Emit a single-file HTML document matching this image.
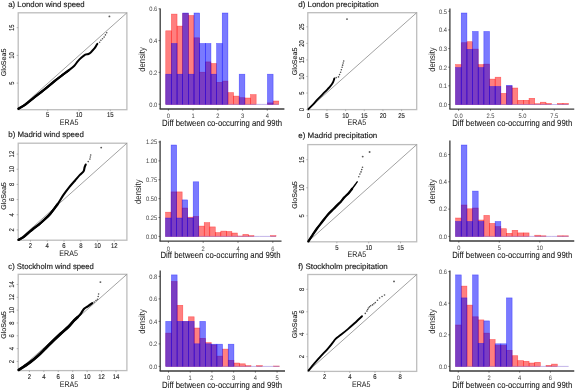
<!DOCTYPE html>
<html><head><meta charset="utf-8"><style>
html,body{margin:0;padding:0;background:#fff;width:575px;height:391px;overflow:hidden}
svg{display:block;will-change:transform}
text{font-family:"Liberation Sans", sans-serif;text-rendering:geometricPrecision}
</style></head><body>
<svg width="575" height="391" viewBox="0 0 575 391" font-family='"Liberation Sans", sans-serif'>
<rect width="575" height="391" fill="#fff"/>
<text x="8.30" y="6.60" font-size="7.8" text-anchor="start" fill="#1a1a1a" stroke="#1a1a1a" stroke-width="0.15" textLength="76.4" lengthAdjust="spacingAndGlyphs">a) London wind speed</text>
<rect x="18.20" y="12.80" width="108.70" height="96.90" fill="none" stroke="#bdbdbd" stroke-width="1.3"/>
<line x1="18.20" y1="109.70" x2="126.90" y2="12.80" stroke="#8a8a8a" stroke-width="0.8"/>
<line x1="47.70" y1="109.70" x2="47.70" y2="111.20" stroke="#999" stroke-width="0.7"/>
<text x="47.70" y="117.40" font-size="7.0" text-anchor="middle" fill="#222" stroke="#222" stroke-width="0.12" textLength="3.31" lengthAdjust="spacingAndGlyphs">5</text>
<line x1="79.00" y1="109.70" x2="79.00" y2="111.20" stroke="#999" stroke-width="0.7"/>
<text x="79.00" y="117.40" font-size="7.0" text-anchor="middle" fill="#222" stroke="#222" stroke-width="0.12" textLength="6.62" lengthAdjust="spacingAndGlyphs">10</text>
<line x1="110.30" y1="109.70" x2="110.30" y2="111.20" stroke="#999" stroke-width="0.7"/>
<text x="110.30" y="117.40" font-size="7.0" text-anchor="middle" fill="#222" stroke="#222" stroke-width="0.12" textLength="6.62" lengthAdjust="spacingAndGlyphs">15</text>
<line x1="16.70" y1="83.10" x2="18.20" y2="83.10" stroke="#999" stroke-width="0.7"/>
<text x="14.10" y="83.10" font-size="7.0" text-anchor="middle" fill="#222" stroke="#222" stroke-width="0.12" transform="rotate(-90 14.10 83.10)" textLength="3.31" lengthAdjust="spacingAndGlyphs">5</text>
<line x1="16.70" y1="55.40" x2="18.20" y2="55.40" stroke="#999" stroke-width="0.7"/>
<text x="14.10" y="55.40" font-size="7.0" text-anchor="middle" fill="#222" stroke="#222" stroke-width="0.12" transform="rotate(-90 14.10 55.40)" textLength="6.62" lengthAdjust="spacingAndGlyphs">10</text>
<line x1="16.70" y1="27.70" x2="18.20" y2="27.70" stroke="#999" stroke-width="0.7"/>
<text x="14.10" y="27.70" font-size="7.0" text-anchor="middle" fill="#222" stroke="#222" stroke-width="0.12" transform="rotate(-90 14.10 27.70)" textLength="6.62" lengthAdjust="spacingAndGlyphs">15</text>
<text x="69.10" y="125.40" font-size="8.1" text-anchor="middle" fill="#1a1a1a" textLength="18.6" lengthAdjust="spacingAndGlyphs">ERA5</text>
<text x="6.30" y="62.40" font-size="6.9" text-anchor="middle" fill="#1a1a1a" stroke="#1a1a1a" stroke-width="0.1" transform="rotate(-90 6.30 62.40)" textLength="27.6" lengthAdjust="spacingAndGlyphs">GloSea5</text>
<path d="M18.50,108.70 C19.63,108.02 22.72,106.45 25.30,104.60 C27.88,102.75 30.95,100.00 34.00,97.60 C37.05,95.20 40.15,92.97 43.60,90.20 C47.05,87.43 51.53,83.55 54.70,81.00 C57.87,78.45 60.32,76.63 62.60,74.90 C64.88,73.17 66.48,72.08 68.40,70.60 C70.32,69.12 72.55,67.53 74.10,66.00 C75.65,64.47 76.47,62.80 77.70,61.40 C78.93,60.00 80.23,58.73 81.50,57.60 C82.77,56.47 84.15,55.20 85.30,54.60 C86.45,54.00 87.45,54.38 88.40,54.00 C89.35,53.62 90.23,52.97 91.00,52.30 C91.77,51.63 92.30,50.83 93.00,50.00 C93.70,49.17 94.62,48.10 95.20,47.30 C95.78,46.50 96.15,45.77 96.50,45.20 C96.85,44.63 97.17,44.12 97.30,43.90" fill="none" stroke="#000" stroke-width="2.0" stroke-linejoin="round" stroke-linecap="round"/>
<path d="M18.50,108.70 C19.63,108.02 22.72,106.45 25.30,104.60 C27.88,102.75 30.95,100.00 34.00,97.60 C37.05,95.20 40.15,92.97 43.60,90.20 C47.05,87.43 51.53,83.55 54.70,81.00 C57.87,78.45 60.32,76.63 62.60,74.90 C64.88,73.17 67.43,71.32 68.40,70.60" fill="none" stroke="#000" stroke-width="2.3" stroke-linejoin="round" stroke-linecap="round"/>
<circle cx="99.60" cy="42.30" r="0.8" fill="#505050"/>
<circle cx="100.90" cy="40.30" r="0.8" fill="#505050"/>
<circle cx="102.50" cy="38.70" r="0.8" fill="#505050"/>
<circle cx="104.10" cy="37.10" r="0.8" fill="#505050"/>
<circle cx="105.40" cy="34.90" r="0.8" fill="#505050"/>
<circle cx="106.70" cy="32.70" r="0.8" fill="#505050"/>
<circle cx="109.40" cy="16.40" r="0.95" fill="#5a5a5a"/>
<text x="8.30" y="137.30" font-size="7.8" text-anchor="start" fill="#1a1a1a" stroke="#1a1a1a" stroke-width="0.15" textLength="75.5" lengthAdjust="spacingAndGlyphs">b) Madrid wind speed</text>
<rect x="18.20" y="143.20" width="108.70" height="97.00" fill="none" stroke="#bdbdbd" stroke-width="1.3"/>
<line x1="18.20" y1="240.20" x2="126.90" y2="143.20" stroke="#8a8a8a" stroke-width="0.8"/>
<line x1="30.50" y1="240.20" x2="30.50" y2="241.70" stroke="#999" stroke-width="0.7"/>
<text x="30.50" y="248.30" font-size="7.0" text-anchor="middle" fill="#222" stroke="#222" stroke-width="0.12" textLength="3.31" lengthAdjust="spacingAndGlyphs">2</text>
<line x1="47.26" y1="240.20" x2="47.26" y2="241.70" stroke="#999" stroke-width="0.7"/>
<text x="47.26" y="248.30" font-size="7.0" text-anchor="middle" fill="#222" stroke="#222" stroke-width="0.12" textLength="3.31" lengthAdjust="spacingAndGlyphs">4</text>
<line x1="64.02" y1="240.20" x2="64.02" y2="241.70" stroke="#999" stroke-width="0.7"/>
<text x="64.02" y="248.30" font-size="7.0" text-anchor="middle" fill="#222" stroke="#222" stroke-width="0.12" textLength="3.31" lengthAdjust="spacingAndGlyphs">6</text>
<line x1="80.78" y1="240.20" x2="80.78" y2="241.70" stroke="#999" stroke-width="0.7"/>
<text x="80.78" y="248.30" font-size="7.0" text-anchor="middle" fill="#222" stroke="#222" stroke-width="0.12" textLength="3.31" lengthAdjust="spacingAndGlyphs">8</text>
<line x1="97.54" y1="240.20" x2="97.54" y2="241.70" stroke="#999" stroke-width="0.7"/>
<text x="97.54" y="248.30" font-size="7.0" text-anchor="middle" fill="#222" stroke="#222" stroke-width="0.12" textLength="6.62" lengthAdjust="spacingAndGlyphs">10</text>
<line x1="114.30" y1="240.20" x2="114.30" y2="241.70" stroke="#999" stroke-width="0.7"/>
<text x="114.30" y="248.30" font-size="7.0" text-anchor="middle" fill="#222" stroke="#222" stroke-width="0.12" textLength="6.62" lengthAdjust="spacingAndGlyphs">12</text>
<line x1="16.70" y1="229.90" x2="18.20" y2="229.90" stroke="#999" stroke-width="0.7"/>
<text x="14.20" y="229.90" font-size="7.0" text-anchor="middle" fill="#222" stroke="#222" stroke-width="0.12" transform="rotate(-90 14.20 229.90)" textLength="3.31" lengthAdjust="spacingAndGlyphs">2</text>
<line x1="16.70" y1="214.74" x2="18.20" y2="214.74" stroke="#999" stroke-width="0.7"/>
<text x="14.20" y="214.74" font-size="7.0" text-anchor="middle" fill="#222" stroke="#222" stroke-width="0.12" transform="rotate(-90 14.20 214.74)" textLength="3.31" lengthAdjust="spacingAndGlyphs">4</text>
<line x1="16.70" y1="199.58" x2="18.20" y2="199.58" stroke="#999" stroke-width="0.7"/>
<text x="14.20" y="199.58" font-size="7.0" text-anchor="middle" fill="#222" stroke="#222" stroke-width="0.12" transform="rotate(-90 14.20 199.58)" textLength="3.31" lengthAdjust="spacingAndGlyphs">6</text>
<line x1="16.70" y1="184.42" x2="18.20" y2="184.42" stroke="#999" stroke-width="0.7"/>
<text x="14.20" y="184.42" font-size="7.0" text-anchor="middle" fill="#222" stroke="#222" stroke-width="0.12" transform="rotate(-90 14.20 184.42)" textLength="3.31" lengthAdjust="spacingAndGlyphs">8</text>
<line x1="16.70" y1="169.26" x2="18.20" y2="169.26" stroke="#999" stroke-width="0.7"/>
<text x="14.20" y="169.26" font-size="7.0" text-anchor="middle" fill="#222" stroke="#222" stroke-width="0.12" transform="rotate(-90 14.20 169.26)" textLength="6.62" lengthAdjust="spacingAndGlyphs">10</text>
<line x1="16.70" y1="154.10" x2="18.20" y2="154.10" stroke="#999" stroke-width="0.7"/>
<text x="14.20" y="154.10" font-size="7.0" text-anchor="middle" fill="#222" stroke="#222" stroke-width="0.12" transform="rotate(-90 14.20 154.10)" textLength="6.62" lengthAdjust="spacingAndGlyphs">12</text>
<text x="68.60" y="256.40" font-size="8.1" text-anchor="middle" fill="#1a1a1a" textLength="18.6" lengthAdjust="spacingAndGlyphs">ERA5</text>
<text x="6.20" y="196.00" font-size="6.9" text-anchor="middle" fill="#1a1a1a" stroke="#1a1a1a" stroke-width="0.1" transform="rotate(-90 6.20 196.00)" textLength="27.6" lengthAdjust="spacingAndGlyphs">GloSea5</text>
<path d="M18.60,239.80 C19.40,239.35 21.65,238.37 23.40,237.10 C25.15,235.83 27.45,233.60 29.10,232.20 C30.75,230.80 31.67,229.98 33.30,228.70 C34.93,227.42 37.03,226.03 38.90,224.50 C40.77,222.97 42.62,221.27 44.50,219.50 C46.38,217.73 48.05,216.42 50.20,213.90 C52.35,211.38 55.22,207.52 57.40,204.40 C59.58,201.28 61.35,198.03 63.30,195.20 C65.25,192.37 67.17,189.82 69.10,187.40 C71.03,184.98 73.10,182.78 74.90,180.70 C76.70,178.62 78.45,176.48 79.90,174.90 C81.35,173.32 82.82,172.45 83.60,171.20 C84.38,169.95 84.25,168.50 84.60,167.40 C84.95,166.30 85.52,165.07 85.70,164.60" fill="none" stroke="#000" stroke-width="2.1" stroke-linejoin="round" stroke-linecap="round"/>
<path d="M18.60,239.80 C19.40,239.35 21.65,238.37 23.40,237.10 C25.15,235.83 27.45,233.60 29.10,232.20 C30.75,230.80 31.67,229.98 33.30,228.70 C34.93,227.42 37.03,226.03 38.90,224.50 C40.77,222.97 42.62,221.27 44.50,219.50 C46.38,217.73 48.05,216.42 50.20,213.90 C52.35,211.38 56.20,205.98 57.40,204.40" fill="none" stroke="#000" stroke-width="2.4" stroke-linejoin="round" stroke-linecap="round"/>
<circle cx="88.20" cy="161.60" r="0.8" fill="#505050"/>
<circle cx="89.90" cy="159.10" r="0.8" fill="#505050"/>
<circle cx="90.30" cy="157.05" r="0.8" fill="#505050"/>
<circle cx="90.70" cy="155.00" r="0.8" fill="#505050"/>
<circle cx="101.20" cy="147.60" r="0.95" fill="#5a5a5a"/>
<text x="8.30" y="268.80" font-size="7.8" text-anchor="start" fill="#1a1a1a" stroke="#1a1a1a" stroke-width="0.15" textLength="85.6" lengthAdjust="spacingAndGlyphs">c) Stockholm wind speed</text>
<rect x="18.20" y="274.30" width="108.70" height="96.30" fill="none" stroke="#bdbdbd" stroke-width="1.3"/>
<line x1="18.20" y1="370.60" x2="126.90" y2="274.30" stroke="#8a8a8a" stroke-width="0.8"/>
<line x1="29.40" y1="370.60" x2="29.40" y2="372.10" stroke="#999" stroke-width="0.7"/>
<text x="29.40" y="378.90" font-size="7.0" text-anchor="middle" fill="#222" stroke="#222" stroke-width="0.12" textLength="3.31" lengthAdjust="spacingAndGlyphs">2</text>
<line x1="43.84" y1="370.60" x2="43.84" y2="372.10" stroke="#999" stroke-width="0.7"/>
<text x="43.84" y="378.90" font-size="7.0" text-anchor="middle" fill="#222" stroke="#222" stroke-width="0.12" textLength="3.31" lengthAdjust="spacingAndGlyphs">4</text>
<line x1="58.27" y1="370.60" x2="58.27" y2="372.10" stroke="#999" stroke-width="0.7"/>
<text x="58.27" y="378.90" font-size="7.0" text-anchor="middle" fill="#222" stroke="#222" stroke-width="0.12" textLength="3.31" lengthAdjust="spacingAndGlyphs">6</text>
<line x1="72.71" y1="370.60" x2="72.71" y2="372.10" stroke="#999" stroke-width="0.7"/>
<text x="72.71" y="378.90" font-size="7.0" text-anchor="middle" fill="#222" stroke="#222" stroke-width="0.12" textLength="3.31" lengthAdjust="spacingAndGlyphs">8</text>
<line x1="87.14" y1="370.60" x2="87.14" y2="372.10" stroke="#999" stroke-width="0.7"/>
<text x="87.14" y="378.90" font-size="7.0" text-anchor="middle" fill="#222" stroke="#222" stroke-width="0.12" textLength="6.62" lengthAdjust="spacingAndGlyphs">10</text>
<line x1="101.57" y1="370.60" x2="101.57" y2="372.10" stroke="#999" stroke-width="0.7"/>
<text x="101.57" y="378.90" font-size="7.0" text-anchor="middle" fill="#222" stroke="#222" stroke-width="0.12" textLength="6.62" lengthAdjust="spacingAndGlyphs">12</text>
<line x1="116.01" y1="370.60" x2="116.01" y2="372.10" stroke="#999" stroke-width="0.7"/>
<text x="116.01" y="378.90" font-size="7.0" text-anchor="middle" fill="#222" stroke="#222" stroke-width="0.12" textLength="6.62" lengthAdjust="spacingAndGlyphs">14</text>
<line x1="16.70" y1="361.47" x2="18.20" y2="361.47" stroke="#999" stroke-width="0.7"/>
<text x="14.20" y="361.47" font-size="7.0" text-anchor="middle" fill="#222" stroke="#222" stroke-width="0.12" transform="rotate(-90 14.20 361.47)" textLength="3.31" lengthAdjust="spacingAndGlyphs">2</text>
<line x1="16.70" y1="348.63" x2="18.20" y2="348.63" stroke="#999" stroke-width="0.7"/>
<text x="14.20" y="348.63" font-size="7.0" text-anchor="middle" fill="#222" stroke="#222" stroke-width="0.12" transform="rotate(-90 14.20 348.63)" textLength="3.31" lengthAdjust="spacingAndGlyphs">4</text>
<line x1="16.70" y1="335.80" x2="18.20" y2="335.80" stroke="#999" stroke-width="0.7"/>
<text x="14.20" y="335.80" font-size="7.0" text-anchor="middle" fill="#222" stroke="#222" stroke-width="0.12" transform="rotate(-90 14.20 335.80)" textLength="3.31" lengthAdjust="spacingAndGlyphs">6</text>
<line x1="16.70" y1="322.96" x2="18.20" y2="322.96" stroke="#999" stroke-width="0.7"/>
<text x="14.20" y="322.96" font-size="7.0" text-anchor="middle" fill="#222" stroke="#222" stroke-width="0.12" transform="rotate(-90 14.20 322.96)" textLength="3.31" lengthAdjust="spacingAndGlyphs">8</text>
<line x1="16.70" y1="310.13" x2="18.20" y2="310.13" stroke="#999" stroke-width="0.7"/>
<text x="14.20" y="310.13" font-size="7.0" text-anchor="middle" fill="#222" stroke="#222" stroke-width="0.12" transform="rotate(-90 14.20 310.13)" textLength="6.62" lengthAdjust="spacingAndGlyphs">10</text>
<line x1="16.70" y1="297.30" x2="18.20" y2="297.30" stroke="#999" stroke-width="0.7"/>
<text x="14.20" y="297.30" font-size="7.0" text-anchor="middle" fill="#222" stroke="#222" stroke-width="0.12" transform="rotate(-90 14.20 297.30)" textLength="6.62" lengthAdjust="spacingAndGlyphs">12</text>
<line x1="16.70" y1="284.46" x2="18.20" y2="284.46" stroke="#999" stroke-width="0.7"/>
<text x="14.20" y="284.46" font-size="7.0" text-anchor="middle" fill="#222" stroke="#222" stroke-width="0.12" transform="rotate(-90 14.20 284.46)" textLength="6.62" lengthAdjust="spacingAndGlyphs">14</text>
<text x="69.00" y="386.90" font-size="8.1" text-anchor="middle" fill="#1a1a1a" textLength="18.6" lengthAdjust="spacingAndGlyphs">ERA5</text>
<text x="5.90" y="325.00" font-size="6.9" text-anchor="middle" fill="#1a1a1a" stroke="#1a1a1a" stroke-width="0.1" transform="rotate(-90 5.90 325.00)" textLength="27.6" lengthAdjust="spacingAndGlyphs">GloSea5</text>
<path d="M18.80,369.90 C19.70,369.32 22.28,367.68 24.20,366.40 C26.12,365.12 28.00,363.97 30.30,362.20 C32.60,360.43 35.43,358.13 38.00,355.80 C40.57,353.47 43.13,350.73 45.70,348.20 C48.27,345.67 50.85,343.07 53.40,340.60 C55.95,338.13 58.45,335.75 61.00,333.40 C63.55,331.05 66.52,328.67 68.70,326.50 C70.88,324.33 72.63,321.95 74.10,320.40 C75.57,318.85 76.45,318.22 77.50,317.20 C78.55,316.18 79.30,315.70 80.40,314.30 C81.50,312.90 82.87,310.13 84.10,308.80 C85.33,307.47 86.43,307.23 87.80,306.30 C89.17,305.37 91.55,303.72 92.30,303.20" fill="none" stroke="#000" stroke-width="2.2" stroke-linejoin="round" stroke-linecap="round"/>
<path d="M18.80,369.90 C19.70,369.32 22.28,367.68 24.20,366.40 C26.12,365.12 28.00,363.97 30.30,362.20 C32.60,360.43 35.43,358.13 38.00,355.80 C40.57,353.47 43.13,350.73 45.70,348.20 C48.27,345.67 50.85,343.07 53.40,340.60 C55.95,338.13 58.45,335.75 61.00,333.40 C63.55,331.05 66.52,328.67 68.70,326.50 C70.88,324.33 72.63,321.95 74.10,320.40 C75.57,318.85 76.93,317.73 77.50,317.20" fill="none" stroke="#000" stroke-width="2.8" stroke-linejoin="round" stroke-linecap="round"/>
<circle cx="94.20" cy="302.00" r="0.8" fill="#505050"/>
<circle cx="96.00" cy="300.50" r="0.8" fill="#505050"/>
<circle cx="97.50" cy="299.30" r="0.8" fill="#505050"/>
<circle cx="98.20" cy="296.50" r="0.8" fill="#505050"/>
<circle cx="98.60" cy="294.00" r="0.8" fill="#505050"/>
<circle cx="100.40" cy="282.10" r="0.95" fill="#5a5a5a"/>
<text x="298.30" y="6.60" font-size="7.8" text-anchor="start" fill="#1a1a1a" stroke="#1a1a1a" stroke-width="0.15" textLength="80.4" lengthAdjust="spacingAndGlyphs">d) London precipitation</text>
<rect x="307.80" y="12.70" width="108.90" height="96.90" fill="none" stroke="#bdbdbd" stroke-width="1.3"/>
<line x1="307.80" y1="109.60" x2="416.70" y2="12.70" stroke="#8a8a8a" stroke-width="0.8"/>
<line x1="308.30" y1="109.60" x2="308.30" y2="111.10" stroke="#999" stroke-width="0.7"/>
<text x="308.30" y="117.50" font-size="7.0" text-anchor="middle" fill="#222" stroke="#222" stroke-width="0.12" textLength="3.31" lengthAdjust="spacingAndGlyphs">0</text>
<line x1="326.96" y1="109.60" x2="326.96" y2="111.10" stroke="#999" stroke-width="0.7"/>
<text x="326.96" y="117.50" font-size="7.0" text-anchor="middle" fill="#222" stroke="#222" stroke-width="0.12" textLength="3.31" lengthAdjust="spacingAndGlyphs">5</text>
<line x1="345.62" y1="109.60" x2="345.62" y2="111.10" stroke="#999" stroke-width="0.7"/>
<text x="345.62" y="117.50" font-size="7.0" text-anchor="middle" fill="#222" stroke="#222" stroke-width="0.12" textLength="6.62" lengthAdjust="spacingAndGlyphs">10</text>
<line x1="364.28" y1="109.60" x2="364.28" y2="111.10" stroke="#999" stroke-width="0.7"/>
<text x="364.28" y="117.50" font-size="7.0" text-anchor="middle" fill="#222" stroke="#222" stroke-width="0.12" textLength="6.62" lengthAdjust="spacingAndGlyphs">15</text>
<line x1="382.94" y1="109.60" x2="382.94" y2="111.10" stroke="#999" stroke-width="0.7"/>
<text x="382.94" y="117.50" font-size="7.0" text-anchor="middle" fill="#222" stroke="#222" stroke-width="0.12" textLength="6.62" lengthAdjust="spacingAndGlyphs">20</text>
<line x1="401.60" y1="109.60" x2="401.60" y2="111.10" stroke="#999" stroke-width="0.7"/>
<text x="401.60" y="117.50" font-size="7.0" text-anchor="middle" fill="#222" stroke="#222" stroke-width="0.12" textLength="6.62" lengthAdjust="spacingAndGlyphs">25</text>
<line x1="306.30" y1="109.60" x2="307.80" y2="109.60" stroke="#999" stroke-width="0.7"/>
<text x="303.70" y="109.60" font-size="7.0" text-anchor="middle" fill="#222" stroke="#222" stroke-width="0.12" transform="rotate(-90 303.70 109.60)" textLength="3.31" lengthAdjust="spacingAndGlyphs">0</text>
<line x1="306.30" y1="93.04" x2="307.80" y2="93.04" stroke="#999" stroke-width="0.7"/>
<text x="303.70" y="93.04" font-size="7.0" text-anchor="middle" fill="#222" stroke="#222" stroke-width="0.12" transform="rotate(-90 303.70 93.04)" textLength="3.31" lengthAdjust="spacingAndGlyphs">5</text>
<line x1="306.30" y1="76.48" x2="307.80" y2="76.48" stroke="#999" stroke-width="0.7"/>
<text x="303.70" y="76.48" font-size="7.0" text-anchor="middle" fill="#222" stroke="#222" stroke-width="0.12" transform="rotate(-90 303.70 76.48)" textLength="6.62" lengthAdjust="spacingAndGlyphs">10</text>
<line x1="306.30" y1="59.92" x2="307.80" y2="59.92" stroke="#999" stroke-width="0.7"/>
<text x="303.70" y="59.92" font-size="7.0" text-anchor="middle" fill="#222" stroke="#222" stroke-width="0.12" transform="rotate(-90 303.70 59.92)" textLength="6.62" lengthAdjust="spacingAndGlyphs">15</text>
<line x1="306.30" y1="43.36" x2="307.80" y2="43.36" stroke="#999" stroke-width="0.7"/>
<text x="303.70" y="43.36" font-size="7.0" text-anchor="middle" fill="#222" stroke="#222" stroke-width="0.12" transform="rotate(-90 303.70 43.36)" textLength="6.62" lengthAdjust="spacingAndGlyphs">20</text>
<line x1="306.30" y1="26.80" x2="307.80" y2="26.80" stroke="#999" stroke-width="0.7"/>
<text x="303.70" y="26.80" font-size="7.0" text-anchor="middle" fill="#222" stroke="#222" stroke-width="0.12" transform="rotate(-90 303.70 26.80)" textLength="6.62" lengthAdjust="spacingAndGlyphs">25</text>
<text x="356.90" y="125.00" font-size="8.1" text-anchor="middle" fill="#1a1a1a" textLength="18.6" lengthAdjust="spacingAndGlyphs">ERA5</text>
<text x="297.10" y="61.40" font-size="6.9" text-anchor="middle" fill="#1a1a1a" stroke="#1a1a1a" stroke-width="0.1" transform="rotate(-90 297.10 61.40)" textLength="27.6" lengthAdjust="spacingAndGlyphs">GloSea5</text>
<path d="M308.50,109.00 C309.28,108.22 311.60,105.98 313.20,104.30 C314.80,102.62 316.10,101.00 318.10,98.90 C320.10,96.80 323.15,93.83 325.20,91.70 C327.25,89.57 329.12,87.63 330.40,86.10 C331.68,84.57 332.23,83.78 332.90,82.50 C333.57,81.22 334.15,79.08 334.40,78.40" fill="none" stroke="#000" stroke-width="1.9" stroke-linejoin="round" stroke-linecap="round"/>
<circle cx="336.20" cy="77.60" r="0.8" fill="#505050"/>
<circle cx="338.50" cy="76.90" r="0.8" fill="#505050"/>
<circle cx="339.55" cy="74.60" r="0.8" fill="#505050"/>
<circle cx="340.60" cy="72.30" r="0.8" fill="#505050"/>
<circle cx="341.35" cy="69.75" r="0.8" fill="#505050"/>
<circle cx="342.10" cy="67.20" r="0.8" fill="#505050"/>
<circle cx="342.63" cy="65.13" r="0.8" fill="#505050"/>
<circle cx="343.17" cy="63.07" r="0.8" fill="#505050"/>
<circle cx="343.70" cy="61.00" r="0.8" fill="#505050"/>
<circle cx="347.00" cy="19.10" r="0.95" fill="#5a5a5a"/>
<text x="298.30" y="137.80" font-size="7.8" text-anchor="start" fill="#1a1a1a" stroke="#1a1a1a" stroke-width="0.15" textLength="79.0" lengthAdjust="spacingAndGlyphs">e) Madrid precipitation</text>
<rect x="307.80" y="144.60" width="108.90" height="97.20" fill="none" stroke="#bdbdbd" stroke-width="1.3"/>
<line x1="307.80" y1="241.80" x2="416.70" y2="144.60" stroke="#8a8a8a" stroke-width="0.8"/>
<line x1="336.85" y1="241.80" x2="336.85" y2="243.30" stroke="#999" stroke-width="0.7"/>
<text x="336.85" y="249.50" font-size="7.0" text-anchor="middle" fill="#222" stroke="#222" stroke-width="0.12" textLength="3.31" lengthAdjust="spacingAndGlyphs">5</text>
<line x1="368.70" y1="241.80" x2="368.70" y2="243.30" stroke="#999" stroke-width="0.7"/>
<text x="368.70" y="249.50" font-size="7.0" text-anchor="middle" fill="#222" stroke="#222" stroke-width="0.12" textLength="6.62" lengthAdjust="spacingAndGlyphs">10</text>
<line x1="400.55" y1="241.80" x2="400.55" y2="243.30" stroke="#999" stroke-width="0.7"/>
<text x="400.55" y="249.50" font-size="7.0" text-anchor="middle" fill="#222" stroke="#222" stroke-width="0.12" textLength="6.62" lengthAdjust="spacingAndGlyphs">15</text>
<line x1="306.30" y1="215.80" x2="307.80" y2="215.80" stroke="#999" stroke-width="0.7"/>
<text x="303.70" y="215.80" font-size="7.0" text-anchor="middle" fill="#222" stroke="#222" stroke-width="0.12" transform="rotate(-90 303.70 215.80)" textLength="3.31" lengthAdjust="spacingAndGlyphs">5</text>
<line x1="306.30" y1="187.75" x2="307.80" y2="187.75" stroke="#999" stroke-width="0.7"/>
<text x="303.70" y="187.75" font-size="7.0" text-anchor="middle" fill="#222" stroke="#222" stroke-width="0.12" transform="rotate(-90 303.70 187.75)" textLength="6.62" lengthAdjust="spacingAndGlyphs">10</text>
<line x1="306.30" y1="159.70" x2="307.80" y2="159.70" stroke="#999" stroke-width="0.7"/>
<text x="303.70" y="159.70" font-size="7.0" text-anchor="middle" fill="#222" stroke="#222" stroke-width="0.12" transform="rotate(-90 303.70 159.70)" textLength="6.62" lengthAdjust="spacingAndGlyphs">15</text>
<text x="356.80" y="256.60" font-size="8.1" text-anchor="middle" fill="#1a1a1a" textLength="18.6" lengthAdjust="spacingAndGlyphs">ERA5</text>
<text x="297.10" y="195.00" font-size="6.9" text-anchor="middle" fill="#1a1a1a" stroke="#1a1a1a" stroke-width="0.1" transform="rotate(-90 297.10 195.00)" textLength="27.6" lengthAdjust="spacingAndGlyphs">GloSea5</text>
<path d="M308.40,241.30 C309.03,240.35 310.80,237.70 312.20,235.60 C313.60,233.50 315.13,231.00 316.80,228.70 C318.47,226.40 320.40,224.10 322.20,221.80 C324.00,219.50 325.68,217.07 327.60,214.90 C329.52,212.73 332.05,210.47 333.70,208.80 C335.35,207.13 336.35,206.05 337.50,204.90 C338.65,203.75 339.45,203.17 340.60,201.90 C341.75,200.63 343.00,198.83 344.40,197.30 C345.80,195.77 347.72,194.12 349.00,192.70 C350.28,191.28 351.05,190.17 352.10,188.80 C353.15,187.43 354.45,185.67 355.30,184.50 C356.15,183.33 356.88,182.25 357.20,181.80" fill="none" stroke="#000" stroke-width="1.4" stroke-linejoin="round" stroke-linecap="round"/>
<path d="M308.40,241.30 C309.03,240.35 310.80,237.70 312.20,235.60 C313.60,233.50 315.13,231.00 316.80,228.70 C318.47,226.40 320.40,224.10 322.20,221.80 C324.00,219.50 325.68,217.07 327.60,214.90 C329.52,212.73 332.05,210.47 333.70,208.80 C335.35,207.13 336.35,206.05 337.50,204.90 C338.65,203.75 339.45,203.17 340.60,201.90 C341.75,200.63 343.00,198.83 344.40,197.30 C345.80,195.77 347.72,194.12 349.00,192.70 C350.28,191.28 351.58,189.45 352.10,188.80" fill="none" stroke="#000" stroke-width="2.3" stroke-linejoin="round" stroke-linecap="round"/>
<circle cx="358.80" cy="176.80" r="0.8" fill="#505050"/>
<circle cx="359.90" cy="174.10" r="0.8" fill="#505050"/>
<circle cx="361.00" cy="171.90" r="0.8" fill="#505050"/>
<circle cx="361.75" cy="169.60" r="0.8" fill="#505050"/>
<circle cx="362.50" cy="167.30" r="0.8" fill="#505050"/>
<circle cx="362.70" cy="156.60" r="0.95" fill="#5a5a5a"/>
<circle cx="369.60" cy="152.00" r="0.95" fill="#5a5a5a"/>
<text x="298.30" y="268.80" font-size="7.8" text-anchor="start" fill="#1a1a1a" stroke="#1a1a1a" stroke-width="0.15" textLength="89.5" lengthAdjust="spacingAndGlyphs">f) Stockholm precipitation</text>
<rect x="307.80" y="274.50" width="108.90" height="96.90" fill="none" stroke="#bdbdbd" stroke-width="1.3"/>
<line x1="307.80" y1="371.40" x2="416.70" y2="274.50" stroke="#8a8a8a" stroke-width="0.8"/>
<line x1="324.60" y1="371.40" x2="324.60" y2="372.90" stroke="#999" stroke-width="0.7"/>
<text x="324.60" y="379.20" font-size="7.0" text-anchor="middle" fill="#222" stroke="#222" stroke-width="0.12" textLength="3.31" lengthAdjust="spacingAndGlyphs">2</text>
<line x1="349.80" y1="371.40" x2="349.80" y2="372.90" stroke="#999" stroke-width="0.7"/>
<text x="349.80" y="379.20" font-size="7.0" text-anchor="middle" fill="#222" stroke="#222" stroke-width="0.12" textLength="3.31" lengthAdjust="spacingAndGlyphs">4</text>
<line x1="375.00" y1="371.40" x2="375.00" y2="372.90" stroke="#999" stroke-width="0.7"/>
<text x="375.00" y="379.20" font-size="7.0" text-anchor="middle" fill="#222" stroke="#222" stroke-width="0.12" textLength="3.31" lengthAdjust="spacingAndGlyphs">6</text>
<line x1="400.20" y1="371.40" x2="400.20" y2="372.90" stroke="#999" stroke-width="0.7"/>
<text x="400.20" y="379.20" font-size="7.0" text-anchor="middle" fill="#222" stroke="#222" stroke-width="0.12" textLength="3.31" lengthAdjust="spacingAndGlyphs">8</text>
<line x1="306.30" y1="356.66" x2="307.80" y2="356.66" stroke="#999" stroke-width="0.7"/>
<text x="303.70" y="356.66" font-size="7.0" text-anchor="middle" fill="#222" stroke="#222" stroke-width="0.12" transform="rotate(-90 303.70 356.66)" textLength="3.31" lengthAdjust="spacingAndGlyphs">2</text>
<line x1="306.30" y1="334.22" x2="307.80" y2="334.22" stroke="#999" stroke-width="0.7"/>
<text x="303.70" y="334.22" font-size="7.0" text-anchor="middle" fill="#222" stroke="#222" stroke-width="0.12" transform="rotate(-90 303.70 334.22)" textLength="3.31" lengthAdjust="spacingAndGlyphs">4</text>
<line x1="306.30" y1="311.78" x2="307.80" y2="311.78" stroke="#999" stroke-width="0.7"/>
<text x="303.70" y="311.78" font-size="7.0" text-anchor="middle" fill="#222" stroke="#222" stroke-width="0.12" transform="rotate(-90 303.70 311.78)" textLength="3.31" lengthAdjust="spacingAndGlyphs">6</text>
<line x1="306.30" y1="289.34" x2="307.80" y2="289.34" stroke="#999" stroke-width="0.7"/>
<text x="303.70" y="289.34" font-size="7.0" text-anchor="middle" fill="#222" stroke="#222" stroke-width="0.12" transform="rotate(-90 303.70 289.34)" textLength="3.31" lengthAdjust="spacingAndGlyphs">8</text>
<text x="361.20" y="386.50" font-size="8.1" text-anchor="middle" fill="#1a1a1a" textLength="18.6" lengthAdjust="spacingAndGlyphs">ERA5</text>
<text x="297.10" y="324.50" font-size="6.9" text-anchor="middle" fill="#1a1a1a" stroke="#1a1a1a" stroke-width="0.1" transform="rotate(-90 297.10 324.50)" textLength="27.6" lengthAdjust="spacingAndGlyphs">GloSea5</text>
<path d="M308.60,370.40 C309.60,369.20 312.48,365.65 314.60,363.20 C316.72,360.75 319.08,358.13 321.30,355.70 C323.52,353.27 325.97,350.82 327.90,348.60 C329.83,346.38 331.65,343.98 332.90,342.40 C334.15,340.82 334.02,340.40 335.40,339.10 C336.78,337.80 339.12,336.27 341.20,334.60 C343.28,332.93 345.68,330.98 347.90,329.10 C350.12,327.22 352.73,324.90 354.50,323.30 C356.27,321.70 357.25,320.68 358.50,319.50 C359.75,318.32 361.42,316.75 362.00,316.20" fill="none" stroke="#000" stroke-width="1.9" stroke-linejoin="round" stroke-linecap="round"/>
<circle cx="365.30" cy="313.40" r="0.8" fill="#505050"/>
<circle cx="366.90" cy="311.10" r="0.8" fill="#505050"/>
<circle cx="367.65" cy="309.55" r="0.8" fill="#505050"/>
<circle cx="368.40" cy="308.00" r="0.8" fill="#505050"/>
<circle cx="369.55" cy="306.85" r="0.8" fill="#505050"/>
<circle cx="370.70" cy="305.70" r="0.8" fill="#505050"/>
<circle cx="372.50" cy="304.90" r="0.8" fill="#505050"/>
<circle cx="373.90" cy="303.75" r="0.8" fill="#505050"/>
<circle cx="375.30" cy="302.60" r="0.8" fill="#505050"/>
<circle cx="377.45" cy="300.30" r="0.8" fill="#505050"/>
<circle cx="379.60" cy="298.00" r="0.8" fill="#505050"/>
<circle cx="382.05" cy="296.50" r="0.8" fill="#505050"/>
<circle cx="384.50" cy="295.00" r="0.8" fill="#505050"/>
<circle cx="394.00" cy="281.40" r="0.95" fill="#5a5a5a"/>
<rect x="165.75" y="30.80" width="5.65" height="73.60" fill="#ff0000" fill-opacity="0.5" stroke="#ff0000" stroke-opacity="0.5" stroke-width="0.6"/>
<rect x="171.40" y="14.10" width="5.65" height="90.30" fill="#ff0000" fill-opacity="0.5" stroke="#ff0000" stroke-opacity="0.5" stroke-width="0.6"/>
<rect x="177.05" y="26.10" width="5.65" height="78.30" fill="#ff0000" fill-opacity="0.5" stroke="#ff0000" stroke-opacity="0.5" stroke-width="0.6"/>
<rect x="182.70" y="13.40" width="5.65" height="91.00" fill="#ff0000" fill-opacity="0.5" stroke="#ff0000" stroke-opacity="0.5" stroke-width="0.6"/>
<rect x="188.35" y="15.50" width="5.65" height="88.90" fill="#ff0000" fill-opacity="0.5" stroke="#ff0000" stroke-opacity="0.5" stroke-width="0.6"/>
<rect x="194.00" y="37.80" width="5.65" height="66.60" fill="#ff0000" fill-opacity="0.5" stroke="#ff0000" stroke-opacity="0.5" stroke-width="0.6"/>
<rect x="199.65" y="72.20" width="5.65" height="32.20" fill="#ff0000" fill-opacity="0.5" stroke="#ff0000" stroke-opacity="0.5" stroke-width="0.6"/>
<rect x="205.30" y="61.90" width="5.65" height="42.50" fill="#ff0000" fill-opacity="0.5" stroke="#ff0000" stroke-opacity="0.5" stroke-width="0.6"/>
<rect x="210.95" y="63.50" width="5.65" height="40.90" fill="#ff0000" fill-opacity="0.5" stroke="#ff0000" stroke-opacity="0.5" stroke-width="0.6"/>
<rect x="216.60" y="82.30" width="5.65" height="22.10" fill="#ff0000" fill-opacity="0.5" stroke="#ff0000" stroke-opacity="0.5" stroke-width="0.6"/>
<rect x="222.25" y="81.10" width="5.65" height="23.30" fill="#ff0000" fill-opacity="0.5" stroke="#ff0000" stroke-opacity="0.5" stroke-width="0.6"/>
<rect x="227.90" y="92.60" width="5.65" height="11.80" fill="#ff0000" fill-opacity="0.5" stroke="#ff0000" stroke-opacity="0.5" stroke-width="0.6"/>
<rect x="233.55" y="96.10" width="5.65" height="8.30" fill="#ff0000" fill-opacity="0.5" stroke="#ff0000" stroke-opacity="0.5" stroke-width="0.6"/>
<rect x="239.20" y="97.70" width="5.65" height="6.70" fill="#ff0000" fill-opacity="0.5" stroke="#ff0000" stroke-opacity="0.5" stroke-width="0.6"/>
<rect x="244.85" y="98.00" width="5.65" height="6.40" fill="#ff0000" fill-opacity="0.5" stroke="#ff0000" stroke-opacity="0.5" stroke-width="0.6"/>
<rect x="250.50" y="94.60" width="5.65" height="9.80" fill="#ff0000" fill-opacity="0.5" stroke="#ff0000" stroke-opacity="0.5" stroke-width="0.6"/>
<rect x="267.45" y="102.90" width="5.65" height="1.50" fill="#ff0000" fill-opacity="0.5" stroke="#ff0000" stroke-opacity="0.5" stroke-width="0.6"/>
<rect x="273.10" y="101.00" width="5.65" height="3.40" fill="#ff0000" fill-opacity="0.5" stroke="#ff0000" stroke-opacity="0.5" stroke-width="0.6"/>
<rect x="165.75" y="74.20" width="5.65" height="30.20" fill="#0000ff" fill-opacity="0.52" stroke="#0000ff" stroke-opacity="0.5" stroke-width="0.6"/>
<rect x="171.40" y="43.50" width="5.65" height="60.90" fill="#0000ff" fill-opacity="0.52" stroke="#0000ff" stroke-opacity="0.5" stroke-width="0.6"/>
<rect x="177.05" y="74.20" width="5.65" height="30.20" fill="#0000ff" fill-opacity="0.52" stroke="#0000ff" stroke-opacity="0.5" stroke-width="0.6"/>
<rect x="182.70" y="13.00" width="5.65" height="91.40" fill="#0000ff" fill-opacity="0.52" stroke="#0000ff" stroke-opacity="0.5" stroke-width="0.6"/>
<rect x="188.35" y="74.20" width="5.65" height="30.20" fill="#0000ff" fill-opacity="0.52" stroke="#0000ff" stroke-opacity="0.5" stroke-width="0.6"/>
<rect x="194.00" y="13.00" width="5.65" height="91.40" fill="#0000ff" fill-opacity="0.52" stroke="#0000ff" stroke-opacity="0.5" stroke-width="0.6"/>
<rect x="199.65" y="43.50" width="5.65" height="60.90" fill="#0000ff" fill-opacity="0.52" stroke="#0000ff" stroke-opacity="0.5" stroke-width="0.6"/>
<rect x="205.30" y="43.50" width="5.65" height="60.90" fill="#0000ff" fill-opacity="0.52" stroke="#0000ff" stroke-opacity="0.5" stroke-width="0.6"/>
<rect x="210.95" y="74.20" width="5.65" height="30.20" fill="#0000ff" fill-opacity="0.52" stroke="#0000ff" stroke-opacity="0.5" stroke-width="0.6"/>
<rect x="216.60" y="43.50" width="5.65" height="60.90" fill="#0000ff" fill-opacity="0.52" stroke="#0000ff" stroke-opacity="0.5" stroke-width="0.6"/>
<rect x="222.25" y="13.00" width="5.65" height="91.40" fill="#0000ff" fill-opacity="0.52" stroke="#0000ff" stroke-opacity="0.5" stroke-width="0.6"/>
<rect x="239.20" y="74.20" width="5.65" height="30.20" fill="#0000ff" fill-opacity="0.52" stroke="#0000ff" stroke-opacity="0.5" stroke-width="0.6"/>
<rect x="267.45" y="74.20" width="5.65" height="30.20" fill="#0000ff" fill-opacity="0.52" stroke="#0000ff" stroke-opacity="0.5" stroke-width="0.6"/>
<line x1="227.90" y1="104.40" x2="233.55" y2="104.40" stroke="#8060d0" stroke-opacity="0.6" stroke-width="0.8"/>
<line x1="233.55" y1="104.40" x2="239.20" y2="104.40" stroke="#8060d0" stroke-opacity="0.6" stroke-width="0.8"/>
<line x1="244.85" y1="104.40" x2="250.50" y2="104.40" stroke="#8060d0" stroke-opacity="0.6" stroke-width="0.8"/>
<line x1="250.50" y1="104.40" x2="256.15" y2="104.40" stroke="#8060d0" stroke-opacity="0.6" stroke-width="0.8"/>
<line x1="256.15" y1="104.40" x2="261.80" y2="104.40" stroke="#8060d0" stroke-opacity="0.6" stroke-width="0.8"/>
<line x1="261.80" y1="104.40" x2="267.45" y2="104.40" stroke="#8060d0" stroke-opacity="0.6" stroke-width="0.8"/>
<line x1="273.10" y1="104.40" x2="278.75" y2="104.40" stroke="#8060d0" stroke-opacity="0.6" stroke-width="0.8"/>
<line x1="160.20" y1="8.50" x2="160.20" y2="109.00" stroke="#3a3a3a" stroke-width="1.3"/>
<line x1="159.60" y1="109.00" x2="284.40" y2="109.00" stroke="#3a3a3a" stroke-width="1.3"/>
<line x1="158.60" y1="104.20" x2="160.20" y2="104.20" stroke="#333" stroke-width="0.7"/>
<text x="157.30" y="106.50" font-size="6.4" text-anchor="end" fill="#444" textLength="8.01" lengthAdjust="spacingAndGlyphs">0.0</text>
<line x1="158.60" y1="72.40" x2="160.20" y2="72.40" stroke="#333" stroke-width="0.7"/>
<text x="157.30" y="74.70" font-size="6.4" text-anchor="end" fill="#444" textLength="8.01" lengthAdjust="spacingAndGlyphs">0.2</text>
<line x1="158.60" y1="40.60" x2="160.20" y2="40.60" stroke="#333" stroke-width="0.7"/>
<text x="157.30" y="42.90" font-size="6.4" text-anchor="end" fill="#444" textLength="8.01" lengthAdjust="spacingAndGlyphs">0.4</text>
<line x1="158.60" y1="8.80" x2="160.20" y2="8.80" stroke="#333" stroke-width="0.7"/>
<text x="157.30" y="11.10" font-size="6.4" text-anchor="end" fill="#444" textLength="8.01" lengthAdjust="spacingAndGlyphs">0.6</text>
<line x1="168.40" y1="109.00" x2="168.40" y2="110.60" stroke="#333" stroke-width="0.7"/>
<text x="168.40" y="118.30" font-size="6.4" text-anchor="middle" fill="#444" textLength="3.2" lengthAdjust="spacingAndGlyphs">0</text>
<line x1="193.12" y1="109.00" x2="193.12" y2="110.60" stroke="#333" stroke-width="0.7"/>
<text x="193.12" y="118.30" font-size="6.4" text-anchor="middle" fill="#444" textLength="3.2" lengthAdjust="spacingAndGlyphs">1</text>
<line x1="217.84" y1="109.00" x2="217.84" y2="110.60" stroke="#333" stroke-width="0.7"/>
<text x="217.84" y="118.30" font-size="6.4" text-anchor="middle" fill="#444" textLength="3.2" lengthAdjust="spacingAndGlyphs">2</text>
<line x1="242.56" y1="109.00" x2="242.56" y2="110.60" stroke="#333" stroke-width="0.7"/>
<text x="242.56" y="118.30" font-size="6.4" text-anchor="middle" fill="#444" textLength="3.2" lengthAdjust="spacingAndGlyphs">3</text>
<line x1="267.28" y1="109.00" x2="267.28" y2="110.60" stroke="#333" stroke-width="0.7"/>
<text x="267.28" y="118.30" font-size="6.4" text-anchor="middle" fill="#444" textLength="3.2" lengthAdjust="spacingAndGlyphs">4</text>
<text x="222.10" y="126.30" font-size="9.0" text-anchor="middle" fill="#111" stroke="#111" stroke-width="0.06" textLength="120.0" lengthAdjust="spacingAndGlyphs">Diff between co-occurring and 99th</text>
<text x="145.30" y="59.50" font-size="8.8" text-anchor="middle" fill="#1a1a1a" transform="rotate(-90 145.30 59.50)" textLength="24.5" lengthAdjust="spacingAndGlyphs">density</text>
<rect x="165.60" y="212.20" width="5.52" height="24.20" fill="#ff0000" fill-opacity="0.5" stroke="#ff0000" stroke-opacity="0.5" stroke-width="0.6"/>
<rect x="171.12" y="191.90" width="5.52" height="44.50" fill="#ff0000" fill-opacity="0.5" stroke="#ff0000" stroke-opacity="0.5" stroke-width="0.6"/>
<rect x="176.64" y="191.90" width="5.52" height="44.50" fill="#ff0000" fill-opacity="0.5" stroke="#ff0000" stroke-opacity="0.5" stroke-width="0.6"/>
<rect x="182.16" y="208.00" width="5.52" height="28.40" fill="#ff0000" fill-opacity="0.5" stroke="#ff0000" stroke-opacity="0.5" stroke-width="0.6"/>
<rect x="187.68" y="217.20" width="5.52" height="19.20" fill="#ff0000" fill-opacity="0.5" stroke="#ff0000" stroke-opacity="0.5" stroke-width="0.6"/>
<rect x="193.20" y="216.50" width="5.52" height="19.90" fill="#ff0000" fill-opacity="0.5" stroke="#ff0000" stroke-opacity="0.5" stroke-width="0.6"/>
<rect x="198.72" y="226.10" width="5.52" height="10.30" fill="#ff0000" fill-opacity="0.5" stroke="#ff0000" stroke-opacity="0.5" stroke-width="0.6"/>
<rect x="204.24" y="222.60" width="5.52" height="13.80" fill="#ff0000" fill-opacity="0.5" stroke="#ff0000" stroke-opacity="0.5" stroke-width="0.6"/>
<rect x="209.76" y="226.90" width="5.52" height="9.50" fill="#ff0000" fill-opacity="0.5" stroke="#ff0000" stroke-opacity="0.5" stroke-width="0.6"/>
<rect x="215.28" y="232.60" width="5.52" height="3.80" fill="#ff0000" fill-opacity="0.5" stroke="#ff0000" stroke-opacity="0.5" stroke-width="0.6"/>
<rect x="220.80" y="231.10" width="5.52" height="5.30" fill="#ff0000" fill-opacity="0.5" stroke="#ff0000" stroke-opacity="0.5" stroke-width="0.6"/>
<rect x="226.32" y="231.50" width="5.52" height="4.90" fill="#ff0000" fill-opacity="0.5" stroke="#ff0000" stroke-opacity="0.5" stroke-width="0.6"/>
<rect x="231.84" y="233.00" width="5.52" height="3.40" fill="#ff0000" fill-opacity="0.5" stroke="#ff0000" stroke-opacity="0.5" stroke-width="0.6"/>
<rect x="237.36" y="236.00" width="5.52" height="0.40" fill="#ff0000" fill-opacity="0.5" stroke="#ff0000" stroke-opacity="0.5" stroke-width="0.6"/>
<rect x="242.88" y="234.40" width="5.52" height="2.00" fill="#ff0000" fill-opacity="0.5" stroke="#ff0000" stroke-opacity="0.5" stroke-width="0.6"/>
<rect x="248.40" y="235.60" width="5.52" height="0.80" fill="#ff0000" fill-opacity="0.5" stroke="#ff0000" stroke-opacity="0.5" stroke-width="0.6"/>
<rect x="270.48" y="235.60" width="5.52" height="0.80" fill="#ff0000" fill-opacity="0.5" stroke="#ff0000" stroke-opacity="0.5" stroke-width="0.6"/>
<rect x="165.60" y="218.00" width="5.52" height="18.40" fill="#0000ff" fill-opacity="0.52" stroke="#0000ff" stroke-opacity="0.5" stroke-width="0.6"/>
<rect x="171.12" y="145.00" width="5.52" height="91.40" fill="#0000ff" fill-opacity="0.52" stroke="#0000ff" stroke-opacity="0.5" stroke-width="0.6"/>
<rect x="176.64" y="218.00" width="5.52" height="18.40" fill="#0000ff" fill-opacity="0.52" stroke="#0000ff" stroke-opacity="0.5" stroke-width="0.6"/>
<rect x="182.16" y="199.90" width="5.52" height="36.50" fill="#0000ff" fill-opacity="0.52" stroke="#0000ff" stroke-opacity="0.5" stroke-width="0.6"/>
<rect x="187.68" y="218.00" width="5.52" height="18.40" fill="#0000ff" fill-opacity="0.52" stroke="#0000ff" stroke-opacity="0.5" stroke-width="0.6"/>
<rect x="193.20" y="181.80" width="5.52" height="54.60" fill="#0000ff" fill-opacity="0.52" stroke="#0000ff" stroke-opacity="0.5" stroke-width="0.6"/>
<line x1="198.72" y1="236.40" x2="204.24" y2="236.40" stroke="#8060d0" stroke-opacity="0.6" stroke-width="0.8"/>
<line x1="204.24" y1="236.40" x2="209.76" y2="236.40" stroke="#8060d0" stroke-opacity="0.6" stroke-width="0.8"/>
<line x1="209.76" y1="236.40" x2="215.28" y2="236.40" stroke="#8060d0" stroke-opacity="0.6" stroke-width="0.8"/>
<line x1="215.28" y1="236.40" x2="220.80" y2="236.40" stroke="#8060d0" stroke-opacity="0.6" stroke-width="0.8"/>
<line x1="220.80" y1="236.40" x2="226.32" y2="236.40" stroke="#8060d0" stroke-opacity="0.6" stroke-width="0.8"/>
<line x1="226.32" y1="236.40" x2="231.84" y2="236.40" stroke="#8060d0" stroke-opacity="0.6" stroke-width="0.8"/>
<line x1="231.84" y1="236.40" x2="237.36" y2="236.40" stroke="#8060d0" stroke-opacity="0.6" stroke-width="0.8"/>
<line x1="237.36" y1="236.40" x2="242.88" y2="236.40" stroke="#8060d0" stroke-opacity="0.6" stroke-width="0.8"/>
<line x1="242.88" y1="236.40" x2="248.40" y2="236.40" stroke="#8060d0" stroke-opacity="0.6" stroke-width="0.8"/>
<line x1="248.40" y1="236.40" x2="253.92" y2="236.40" stroke="#8060d0" stroke-opacity="0.6" stroke-width="0.8"/>
<line x1="253.92" y1="236.40" x2="259.44" y2="236.40" stroke="#8060d0" stroke-opacity="0.6" stroke-width="0.8"/>
<line x1="259.44" y1="236.40" x2="264.96" y2="236.40" stroke="#8060d0" stroke-opacity="0.6" stroke-width="0.8"/>
<line x1="264.96" y1="236.40" x2="270.48" y2="236.40" stroke="#8060d0" stroke-opacity="0.6" stroke-width="0.8"/>
<line x1="270.48" y1="236.40" x2="276.00" y2="236.40" stroke="#8060d0" stroke-opacity="0.6" stroke-width="0.8"/>
<line x1="160.10" y1="140.70" x2="160.10" y2="241.20" stroke="#3a3a3a" stroke-width="1.3"/>
<line x1="159.50" y1="241.20" x2="281.52" y2="241.20" stroke="#3a3a3a" stroke-width="1.3"/>
<line x1="158.50" y1="236.40" x2="160.10" y2="236.40" stroke="#333" stroke-width="0.7"/>
<text x="157.20" y="238.70" font-size="6.4" text-anchor="end" fill="#444" textLength="11.21" lengthAdjust="spacingAndGlyphs">0.00</text>
<line x1="158.50" y1="217.53" x2="160.10" y2="217.53" stroke="#333" stroke-width="0.7"/>
<text x="157.20" y="219.83" font-size="6.4" text-anchor="end" fill="#444" textLength="11.21" lengthAdjust="spacingAndGlyphs">0.25</text>
<line x1="158.50" y1="198.65" x2="160.10" y2="198.65" stroke="#333" stroke-width="0.7"/>
<text x="157.20" y="200.95" font-size="6.4" text-anchor="end" fill="#444" textLength="11.21" lengthAdjust="spacingAndGlyphs">0.50</text>
<line x1="158.50" y1="179.78" x2="160.10" y2="179.78" stroke="#333" stroke-width="0.7"/>
<text x="157.20" y="182.08" font-size="6.4" text-anchor="end" fill="#444" textLength="11.21" lengthAdjust="spacingAndGlyphs">0.75</text>
<line x1="158.50" y1="160.90" x2="160.10" y2="160.90" stroke="#333" stroke-width="0.7"/>
<text x="157.20" y="163.20" font-size="6.4" text-anchor="end" fill="#444" textLength="11.21" lengthAdjust="spacingAndGlyphs">1.00</text>
<line x1="158.50" y1="142.03" x2="160.10" y2="142.03" stroke="#333" stroke-width="0.7"/>
<text x="157.20" y="144.33" font-size="6.4" text-anchor="end" fill="#444" textLength="11.21" lengthAdjust="spacingAndGlyphs">1.25</text>
<line x1="168.40" y1="241.20" x2="168.40" y2="242.80" stroke="#333" stroke-width="0.7"/>
<text x="168.40" y="250.50" font-size="6.4" text-anchor="middle" fill="#444" textLength="3.2" lengthAdjust="spacingAndGlyphs">0</text>
<line x1="203.20" y1="241.20" x2="203.20" y2="242.80" stroke="#333" stroke-width="0.7"/>
<text x="203.20" y="250.50" font-size="6.4" text-anchor="middle" fill="#444" textLength="3.2" lengthAdjust="spacingAndGlyphs">2</text>
<line x1="238.00" y1="241.20" x2="238.00" y2="242.80" stroke="#333" stroke-width="0.7"/>
<text x="238.00" y="250.50" font-size="6.4" text-anchor="middle" fill="#444" textLength="3.2" lengthAdjust="spacingAndGlyphs">4</text>
<line x1="272.80" y1="241.20" x2="272.80" y2="242.80" stroke="#333" stroke-width="0.7"/>
<text x="272.80" y="250.50" font-size="6.4" text-anchor="middle" fill="#444" textLength="3.2" lengthAdjust="spacingAndGlyphs">6</text>
<text x="220.50" y="258.40" font-size="9.0" text-anchor="middle" fill="#111" stroke="#111" stroke-width="0.06" textLength="120.0" lengthAdjust="spacingAndGlyphs">Diff between co-occurring and 99th</text>
<text x="141.40" y="191.70" font-size="8.8" text-anchor="middle" fill="#1a1a1a" transform="rotate(-90 141.40 191.70)" textLength="24.5" lengthAdjust="spacingAndGlyphs">density</text>
<rect x="165.75" y="333.10" width="5.68" height="33.30" fill="#ff0000" fill-opacity="0.5" stroke="#ff0000" stroke-opacity="0.5" stroke-width="0.6"/>
<rect x="171.43" y="281.50" width="5.68" height="84.90" fill="#ff0000" fill-opacity="0.5" stroke="#ff0000" stroke-opacity="0.5" stroke-width="0.6"/>
<rect x="177.11" y="305.30" width="5.68" height="61.10" fill="#ff0000" fill-opacity="0.5" stroke="#ff0000" stroke-opacity="0.5" stroke-width="0.6"/>
<rect x="182.79" y="321.60" width="5.68" height="44.80" fill="#ff0000" fill-opacity="0.5" stroke="#ff0000" stroke-opacity="0.5" stroke-width="0.6"/>
<rect x="188.47" y="316.80" width="5.68" height="49.60" fill="#ff0000" fill-opacity="0.5" stroke="#ff0000" stroke-opacity="0.5" stroke-width="0.6"/>
<rect x="194.15" y="328.00" width="5.68" height="38.40" fill="#ff0000" fill-opacity="0.5" stroke="#ff0000" stroke-opacity="0.5" stroke-width="0.6"/>
<rect x="199.83" y="338.30" width="5.68" height="28.10" fill="#ff0000" fill-opacity="0.5" stroke="#ff0000" stroke-opacity="0.5" stroke-width="0.6"/>
<rect x="205.51" y="342.60" width="5.68" height="23.80" fill="#ff0000" fill-opacity="0.5" stroke="#ff0000" stroke-opacity="0.5" stroke-width="0.6"/>
<rect x="211.19" y="344.90" width="5.68" height="21.50" fill="#ff0000" fill-opacity="0.5" stroke="#ff0000" stroke-opacity="0.5" stroke-width="0.6"/>
<rect x="216.87" y="356.10" width="5.68" height="10.30" fill="#ff0000" fill-opacity="0.5" stroke="#ff0000" stroke-opacity="0.5" stroke-width="0.6"/>
<rect x="222.55" y="349.10" width="5.68" height="17.30" fill="#ff0000" fill-opacity="0.5" stroke="#ff0000" stroke-opacity="0.5" stroke-width="0.6"/>
<rect x="228.23" y="360.30" width="5.68" height="6.10" fill="#ff0000" fill-opacity="0.5" stroke="#ff0000" stroke-opacity="0.5" stroke-width="0.6"/>
<rect x="233.91" y="363.00" width="5.68" height="3.40" fill="#ff0000" fill-opacity="0.5" stroke="#ff0000" stroke-opacity="0.5" stroke-width="0.6"/>
<rect x="239.59" y="363.80" width="5.68" height="2.60" fill="#ff0000" fill-opacity="0.5" stroke="#ff0000" stroke-opacity="0.5" stroke-width="0.6"/>
<rect x="245.27" y="365.60" width="5.68" height="0.80" fill="#ff0000" fill-opacity="0.5" stroke="#ff0000" stroke-opacity="0.5" stroke-width="0.6"/>
<rect x="256.63" y="365.60" width="5.68" height="0.80" fill="#ff0000" fill-opacity="0.5" stroke="#ff0000" stroke-opacity="0.5" stroke-width="0.6"/>
<rect x="273.67" y="366.00" width="5.68" height="0.40" fill="#ff0000" fill-opacity="0.5" stroke="#ff0000" stroke-opacity="0.5" stroke-width="0.6"/>
<rect x="165.75" y="321.40" width="5.68" height="45.00" fill="#0000ff" fill-opacity="0.52" stroke="#0000ff" stroke-opacity="0.5" stroke-width="0.6"/>
<rect x="171.43" y="274.90" width="5.68" height="91.50" fill="#0000ff" fill-opacity="0.52" stroke="#0000ff" stroke-opacity="0.5" stroke-width="0.6"/>
<rect x="177.11" y="321.40" width="5.68" height="45.00" fill="#0000ff" fill-opacity="0.52" stroke="#0000ff" stroke-opacity="0.5" stroke-width="0.6"/>
<rect x="182.79" y="321.40" width="5.68" height="45.00" fill="#0000ff" fill-opacity="0.52" stroke="#0000ff" stroke-opacity="0.5" stroke-width="0.6"/>
<rect x="188.47" y="321.40" width="5.68" height="45.00" fill="#0000ff" fill-opacity="0.52" stroke="#0000ff" stroke-opacity="0.5" stroke-width="0.6"/>
<rect x="194.15" y="343.80" width="5.68" height="22.60" fill="#0000ff" fill-opacity="0.52" stroke="#0000ff" stroke-opacity="0.5" stroke-width="0.6"/>
<rect x="199.83" y="321.40" width="5.68" height="45.00" fill="#0000ff" fill-opacity="0.52" stroke="#0000ff" stroke-opacity="0.5" stroke-width="0.6"/>
<rect x="205.51" y="343.80" width="5.68" height="22.60" fill="#0000ff" fill-opacity="0.52" stroke="#0000ff" stroke-opacity="0.5" stroke-width="0.6"/>
<rect x="211.19" y="344.20" width="5.68" height="22.20" fill="#0000ff" fill-opacity="0.52" stroke="#0000ff" stroke-opacity="0.5" stroke-width="0.6"/>
<rect x="216.87" y="344.20" width="5.68" height="22.20" fill="#0000ff" fill-opacity="0.52" stroke="#0000ff" stroke-opacity="0.5" stroke-width="0.6"/>
<rect x="228.23" y="344.20" width="5.68" height="22.20" fill="#0000ff" fill-opacity="0.52" stroke="#0000ff" stroke-opacity="0.5" stroke-width="0.6"/>
<line x1="222.55" y1="366.40" x2="228.23" y2="366.40" stroke="#8060d0" stroke-opacity="0.6" stroke-width="0.8"/>
<line x1="233.91" y1="366.40" x2="239.59" y2="366.40" stroke="#8060d0" stroke-opacity="0.6" stroke-width="0.8"/>
<line x1="239.59" y1="366.40" x2="245.27" y2="366.40" stroke="#8060d0" stroke-opacity="0.6" stroke-width="0.8"/>
<line x1="245.27" y1="366.40" x2="250.95" y2="366.40" stroke="#8060d0" stroke-opacity="0.6" stroke-width="0.8"/>
<line x1="250.95" y1="366.40" x2="256.63" y2="366.40" stroke="#8060d0" stroke-opacity="0.6" stroke-width="0.8"/>
<line x1="256.63" y1="366.40" x2="262.31" y2="366.40" stroke="#8060d0" stroke-opacity="0.6" stroke-width="0.8"/>
<line x1="262.31" y1="366.40" x2="267.99" y2="366.40" stroke="#8060d0" stroke-opacity="0.6" stroke-width="0.8"/>
<line x1="267.99" y1="366.40" x2="273.67" y2="366.40" stroke="#8060d0" stroke-opacity="0.6" stroke-width="0.8"/>
<line x1="273.67" y1="366.40" x2="279.35" y2="366.40" stroke="#8060d0" stroke-opacity="0.6" stroke-width="0.8"/>
<line x1="160.20" y1="270.50" x2="160.20" y2="371.00" stroke="#3a3a3a" stroke-width="1.3"/>
<line x1="159.60" y1="371.00" x2="285.03" y2="371.00" stroke="#3a3a3a" stroke-width="1.3"/>
<line x1="158.60" y1="366.40" x2="160.20" y2="366.40" stroke="#333" stroke-width="0.7"/>
<text x="157.30" y="368.70" font-size="6.4" text-anchor="end" fill="#444" textLength="8.01" lengthAdjust="spacingAndGlyphs">0.0</text>
<line x1="158.60" y1="343.90" x2="160.20" y2="343.90" stroke="#333" stroke-width="0.7"/>
<text x="157.30" y="346.20" font-size="6.4" text-anchor="end" fill="#444" textLength="8.01" lengthAdjust="spacingAndGlyphs">0.2</text>
<line x1="158.60" y1="321.40" x2="160.20" y2="321.40" stroke="#333" stroke-width="0.7"/>
<text x="157.30" y="323.70" font-size="6.4" text-anchor="end" fill="#444" textLength="8.01" lengthAdjust="spacingAndGlyphs">0.4</text>
<line x1="158.60" y1="298.90" x2="160.20" y2="298.90" stroke="#333" stroke-width="0.7"/>
<text x="157.30" y="301.20" font-size="6.4" text-anchor="end" fill="#444" textLength="8.01" lengthAdjust="spacingAndGlyphs">0.6</text>
<line x1="158.60" y1="276.40" x2="160.20" y2="276.40" stroke="#333" stroke-width="0.7"/>
<text x="157.30" y="278.70" font-size="6.4" text-anchor="end" fill="#444" textLength="8.01" lengthAdjust="spacingAndGlyphs">0.8</text>
<line x1="168.50" y1="371.00" x2="168.50" y2="372.60" stroke="#333" stroke-width="0.7"/>
<text x="168.50" y="380.30" font-size="6.4" text-anchor="middle" fill="#444" textLength="3.2" lengthAdjust="spacingAndGlyphs">0</text>
<line x1="190.22" y1="371.00" x2="190.22" y2="372.60" stroke="#333" stroke-width="0.7"/>
<text x="190.22" y="380.30" font-size="6.4" text-anchor="middle" fill="#444" textLength="3.2" lengthAdjust="spacingAndGlyphs">1</text>
<line x1="211.94" y1="371.00" x2="211.94" y2="372.60" stroke="#333" stroke-width="0.7"/>
<text x="211.94" y="380.30" font-size="6.4" text-anchor="middle" fill="#444" textLength="3.2" lengthAdjust="spacingAndGlyphs">2</text>
<line x1="233.66" y1="371.00" x2="233.66" y2="372.60" stroke="#333" stroke-width="0.7"/>
<text x="233.66" y="380.30" font-size="6.4" text-anchor="middle" fill="#444" textLength="3.2" lengthAdjust="spacingAndGlyphs">3</text>
<line x1="255.38" y1="371.00" x2="255.38" y2="372.60" stroke="#333" stroke-width="0.7"/>
<text x="255.38" y="380.30" font-size="6.4" text-anchor="middle" fill="#444" textLength="3.2" lengthAdjust="spacingAndGlyphs">4</text>
<line x1="277.10" y1="371.00" x2="277.10" y2="372.60" stroke="#333" stroke-width="0.7"/>
<text x="277.10" y="380.30" font-size="6.4" text-anchor="middle" fill="#444" textLength="3.2" lengthAdjust="spacingAndGlyphs">5</text>
<text x="222.10" y="388.30" font-size="9.0" text-anchor="middle" fill="#111" stroke="#111" stroke-width="0.06" textLength="120.0" lengthAdjust="spacingAndGlyphs">Diff between co-occurring and 99th</text>
<text x="145.30" y="321.50" font-size="8.8" text-anchor="middle" fill="#1a1a1a" transform="rotate(-90 145.30 321.50)" textLength="24.5" lengthAdjust="spacingAndGlyphs">density</text>
<rect x="455.60" y="64.60" width="5.65" height="39.90" fill="#ff0000" fill-opacity="0.5" stroke="#ff0000" stroke-opacity="0.5" stroke-width="0.6"/>
<rect x="461.25" y="42.70" width="5.65" height="61.80" fill="#ff0000" fill-opacity="0.5" stroke="#ff0000" stroke-opacity="0.5" stroke-width="0.6"/>
<rect x="466.90" y="41.70" width="5.65" height="62.80" fill="#ff0000" fill-opacity="0.5" stroke="#ff0000" stroke-opacity="0.5" stroke-width="0.6"/>
<rect x="472.55" y="49.10" width="5.65" height="55.40" fill="#ff0000" fill-opacity="0.5" stroke="#ff0000" stroke-opacity="0.5" stroke-width="0.6"/>
<rect x="478.20" y="64.60" width="5.65" height="39.90" fill="#ff0000" fill-opacity="0.5" stroke="#ff0000" stroke-opacity="0.5" stroke-width="0.6"/>
<rect x="483.85" y="64.10" width="5.65" height="40.40" fill="#ff0000" fill-opacity="0.5" stroke="#ff0000" stroke-opacity="0.5" stroke-width="0.6"/>
<rect x="489.50" y="79.10" width="5.65" height="25.40" fill="#ff0000" fill-opacity="0.5" stroke="#ff0000" stroke-opacity="0.5" stroke-width="0.6"/>
<rect x="495.15" y="77.20" width="5.65" height="27.30" fill="#ff0000" fill-opacity="0.5" stroke="#ff0000" stroke-opacity="0.5" stroke-width="0.6"/>
<rect x="500.80" y="93.40" width="5.65" height="11.10" fill="#ff0000" fill-opacity="0.5" stroke="#ff0000" stroke-opacity="0.5" stroke-width="0.6"/>
<rect x="506.45" y="86.10" width="5.65" height="18.40" fill="#ff0000" fill-opacity="0.5" stroke="#ff0000" stroke-opacity="0.5" stroke-width="0.6"/>
<rect x="512.10" y="88.00" width="5.65" height="16.50" fill="#ff0000" fill-opacity="0.5" stroke="#ff0000" stroke-opacity="0.5" stroke-width="0.6"/>
<rect x="517.75" y="100.30" width="5.65" height="4.20" fill="#ff0000" fill-opacity="0.5" stroke="#ff0000" stroke-opacity="0.5" stroke-width="0.6"/>
<rect x="523.40" y="100.30" width="5.65" height="4.20" fill="#ff0000" fill-opacity="0.5" stroke="#ff0000" stroke-opacity="0.5" stroke-width="0.6"/>
<rect x="529.05" y="98.30" width="5.65" height="6.20" fill="#ff0000" fill-opacity="0.5" stroke="#ff0000" stroke-opacity="0.5" stroke-width="0.6"/>
<rect x="534.70" y="103.70" width="5.65" height="0.80" fill="#ff0000" fill-opacity="0.5" stroke="#ff0000" stroke-opacity="0.5" stroke-width="0.6"/>
<rect x="540.35" y="102.20" width="5.65" height="2.30" fill="#ff0000" fill-opacity="0.5" stroke="#ff0000" stroke-opacity="0.5" stroke-width="0.6"/>
<rect x="546.00" y="103.40" width="5.65" height="1.10" fill="#ff0000" fill-opacity="0.5" stroke="#ff0000" stroke-opacity="0.5" stroke-width="0.6"/>
<rect x="557.30" y="103.40" width="5.65" height="1.10" fill="#ff0000" fill-opacity="0.5" stroke="#ff0000" stroke-opacity="0.5" stroke-width="0.6"/>
<rect x="562.95" y="103.40" width="5.65" height="1.10" fill="#ff0000" fill-opacity="0.5" stroke="#ff0000" stroke-opacity="0.5" stroke-width="0.6"/>
<rect x="455.60" y="67.60" width="5.65" height="36.90" fill="#0000ff" fill-opacity="0.52" stroke="#0000ff" stroke-opacity="0.5" stroke-width="0.6"/>
<rect x="461.25" y="13.00" width="5.65" height="91.50" fill="#0000ff" fill-opacity="0.52" stroke="#0000ff" stroke-opacity="0.5" stroke-width="0.6"/>
<rect x="466.90" y="49.40" width="5.65" height="55.10" fill="#0000ff" fill-opacity="0.52" stroke="#0000ff" stroke-opacity="0.5" stroke-width="0.6"/>
<rect x="472.55" y="31.50" width="5.65" height="73.00" fill="#0000ff" fill-opacity="0.52" stroke="#0000ff" stroke-opacity="0.5" stroke-width="0.6"/>
<rect x="478.20" y="67.60" width="5.65" height="36.90" fill="#0000ff" fill-opacity="0.52" stroke="#0000ff" stroke-opacity="0.5" stroke-width="0.6"/>
<rect x="483.85" y="31.50" width="5.65" height="73.00" fill="#0000ff" fill-opacity="0.52" stroke="#0000ff" stroke-opacity="0.5" stroke-width="0.6"/>
<rect x="489.50" y="86.50" width="5.65" height="18.00" fill="#0000ff" fill-opacity="0.52" stroke="#0000ff" stroke-opacity="0.5" stroke-width="0.6"/>
<rect x="495.15" y="86.50" width="5.65" height="18.00" fill="#0000ff" fill-opacity="0.52" stroke="#0000ff" stroke-opacity="0.5" stroke-width="0.6"/>
<rect x="506.45" y="85.30" width="5.65" height="19.20" fill="#0000ff" fill-opacity="0.52" stroke="#0000ff" stroke-opacity="0.5" stroke-width="0.6"/>
<line x1="500.80" y1="104.50" x2="506.45" y2="104.50" stroke="#8060d0" stroke-opacity="0.6" stroke-width="0.8"/>
<line x1="512.10" y1="104.50" x2="517.75" y2="104.50" stroke="#8060d0" stroke-opacity="0.6" stroke-width="0.8"/>
<line x1="517.75" y1="104.50" x2="523.40" y2="104.50" stroke="#8060d0" stroke-opacity="0.6" stroke-width="0.8"/>
<line x1="523.40" y1="104.50" x2="529.05" y2="104.50" stroke="#8060d0" stroke-opacity="0.6" stroke-width="0.8"/>
<line x1="529.05" y1="104.50" x2="534.70" y2="104.50" stroke="#8060d0" stroke-opacity="0.6" stroke-width="0.8"/>
<line x1="534.70" y1="104.50" x2="540.35" y2="104.50" stroke="#8060d0" stroke-opacity="0.6" stroke-width="0.8"/>
<line x1="540.35" y1="104.50" x2="546.00" y2="104.50" stroke="#8060d0" stroke-opacity="0.6" stroke-width="0.8"/>
<line x1="546.00" y1="104.50" x2="551.65" y2="104.50" stroke="#8060d0" stroke-opacity="0.6" stroke-width="0.8"/>
<line x1="551.65" y1="104.50" x2="557.30" y2="104.50" stroke="#8060d0" stroke-opacity="0.6" stroke-width="0.8"/>
<line x1="557.30" y1="104.50" x2="562.95" y2="104.50" stroke="#8060d0" stroke-opacity="0.6" stroke-width="0.8"/>
<line x1="562.95" y1="104.50" x2="568.60" y2="104.50" stroke="#8060d0" stroke-opacity="0.6" stroke-width="0.8"/>
<line x1="449.90" y1="8.60" x2="449.90" y2="109.10" stroke="#3a3a3a" stroke-width="1.3"/>
<line x1="449.30" y1="109.10" x2="574.25" y2="109.10" stroke="#3a3a3a" stroke-width="1.3"/>
<line x1="448.30" y1="104.50" x2="449.90" y2="104.50" stroke="#333" stroke-width="0.7"/>
<text x="447.00" y="106.80" font-size="6.4" text-anchor="end" fill="#444" textLength="8.01" lengthAdjust="spacingAndGlyphs">0.0</text>
<line x1="448.30" y1="85.85" x2="449.90" y2="85.85" stroke="#333" stroke-width="0.7"/>
<text x="447.00" y="88.15" font-size="6.4" text-anchor="end" fill="#444" textLength="8.01" lengthAdjust="spacingAndGlyphs">0.1</text>
<line x1="448.30" y1="67.20" x2="449.90" y2="67.20" stroke="#333" stroke-width="0.7"/>
<text x="447.00" y="69.50" font-size="6.4" text-anchor="end" fill="#444" textLength="8.01" lengthAdjust="spacingAndGlyphs">0.2</text>
<line x1="448.30" y1="48.55" x2="449.90" y2="48.55" stroke="#333" stroke-width="0.7"/>
<text x="447.00" y="50.85" font-size="6.4" text-anchor="end" fill="#444" textLength="8.01" lengthAdjust="spacingAndGlyphs">0.3</text>
<line x1="448.30" y1="29.90" x2="449.90" y2="29.90" stroke="#333" stroke-width="0.7"/>
<text x="447.00" y="32.20" font-size="6.4" text-anchor="end" fill="#444" textLength="8.01" lengthAdjust="spacingAndGlyphs">0.4</text>
<line x1="448.30" y1="11.25" x2="449.90" y2="11.25" stroke="#333" stroke-width="0.7"/>
<text x="447.00" y="13.55" font-size="6.4" text-anchor="end" fill="#444" textLength="8.01" lengthAdjust="spacingAndGlyphs">0.5</text>
<line x1="458.60" y1="109.10" x2="458.60" y2="110.70" stroke="#333" stroke-width="0.7"/>
<text x="458.60" y="118.40" font-size="6.4" text-anchor="middle" fill="#444" textLength="8.01" lengthAdjust="spacingAndGlyphs">0.0</text>
<line x1="490.50" y1="109.10" x2="490.50" y2="110.70" stroke="#333" stroke-width="0.7"/>
<text x="490.50" y="118.40" font-size="6.4" text-anchor="middle" fill="#444" textLength="8.01" lengthAdjust="spacingAndGlyphs">2.5</text>
<line x1="522.40" y1="109.10" x2="522.40" y2="110.70" stroke="#333" stroke-width="0.7"/>
<text x="522.40" y="118.40" font-size="6.4" text-anchor="middle" fill="#444" textLength="8.01" lengthAdjust="spacingAndGlyphs">5.0</text>
<line x1="554.30" y1="109.10" x2="554.30" y2="110.70" stroke="#333" stroke-width="0.7"/>
<text x="554.30" y="118.40" font-size="6.4" text-anchor="middle" fill="#444" textLength="8.01" lengthAdjust="spacingAndGlyphs">7.5</text>
<text x="512.20" y="126.30" font-size="9.0" text-anchor="middle" fill="#111" stroke="#111" stroke-width="0.06" textLength="120.0" lengthAdjust="spacingAndGlyphs">Diff between co-occurring and 99th</text>
<text x="434.60" y="59.60" font-size="8.8" text-anchor="middle" fill="#1a1a1a" transform="rotate(-90 434.60 59.60)" textLength="24.5" lengthAdjust="spacingAndGlyphs">density</text>
<rect x="455.60" y="218.00" width="5.65" height="18.40" fill="#ff0000" fill-opacity="0.5" stroke="#ff0000" stroke-opacity="0.5" stroke-width="0.6"/>
<rect x="461.25" y="205.00" width="5.65" height="31.40" fill="#ff0000" fill-opacity="0.5" stroke="#ff0000" stroke-opacity="0.5" stroke-width="0.6"/>
<rect x="466.90" y="208.80" width="5.65" height="27.60" fill="#ff0000" fill-opacity="0.5" stroke="#ff0000" stroke-opacity="0.5" stroke-width="0.6"/>
<rect x="472.55" y="208.00" width="5.65" height="28.40" fill="#ff0000" fill-opacity="0.5" stroke="#ff0000" stroke-opacity="0.5" stroke-width="0.6"/>
<rect x="478.20" y="220.00" width="5.65" height="16.40" fill="#ff0000" fill-opacity="0.5" stroke="#ff0000" stroke-opacity="0.5" stroke-width="0.6"/>
<rect x="483.85" y="215.40" width="5.65" height="21.00" fill="#ff0000" fill-opacity="0.5" stroke="#ff0000" stroke-opacity="0.5" stroke-width="0.6"/>
<rect x="489.50" y="223.40" width="5.65" height="13.00" fill="#ff0000" fill-opacity="0.5" stroke="#ff0000" stroke-opacity="0.5" stroke-width="0.6"/>
<rect x="495.15" y="226.60" width="5.65" height="9.80" fill="#ff0000" fill-opacity="0.5" stroke="#ff0000" stroke-opacity="0.5" stroke-width="0.6"/>
<rect x="500.80" y="228.70" width="5.65" height="7.70" fill="#ff0000" fill-opacity="0.5" stroke="#ff0000" stroke-opacity="0.5" stroke-width="0.6"/>
<rect x="506.45" y="233.30" width="5.65" height="3.10" fill="#ff0000" fill-opacity="0.5" stroke="#ff0000" stroke-opacity="0.5" stroke-width="0.6"/>
<rect x="512.10" y="230.30" width="5.65" height="6.10" fill="#ff0000" fill-opacity="0.5" stroke="#ff0000" stroke-opacity="0.5" stroke-width="0.6"/>
<rect x="517.75" y="232.90" width="5.65" height="3.50" fill="#ff0000" fill-opacity="0.5" stroke="#ff0000" stroke-opacity="0.5" stroke-width="0.6"/>
<rect x="523.40" y="232.90" width="5.65" height="3.50" fill="#ff0000" fill-opacity="0.5" stroke="#ff0000" stroke-opacity="0.5" stroke-width="0.6"/>
<rect x="534.70" y="235.20" width="5.65" height="1.20" fill="#ff0000" fill-opacity="0.5" stroke="#ff0000" stroke-opacity="0.5" stroke-width="0.6"/>
<rect x="540.35" y="235.80" width="5.65" height="0.60" fill="#ff0000" fill-opacity="0.5" stroke="#ff0000" stroke-opacity="0.5" stroke-width="0.6"/>
<rect x="557.30" y="235.80" width="5.65" height="0.60" fill="#ff0000" fill-opacity="0.5" stroke="#ff0000" stroke-opacity="0.5" stroke-width="0.6"/>
<rect x="562.95" y="235.80" width="5.65" height="0.60" fill="#ff0000" fill-opacity="0.5" stroke="#ff0000" stroke-opacity="0.5" stroke-width="0.6"/>
<rect x="455.60" y="221.50" width="5.65" height="14.90" fill="#0000ff" fill-opacity="0.52" stroke="#0000ff" stroke-opacity="0.5" stroke-width="0.6"/>
<rect x="461.25" y="145.00" width="5.65" height="91.40" fill="#0000ff" fill-opacity="0.52" stroke="#0000ff" stroke-opacity="0.5" stroke-width="0.6"/>
<rect x="466.90" y="221.50" width="5.65" height="14.90" fill="#0000ff" fill-opacity="0.52" stroke="#0000ff" stroke-opacity="0.5" stroke-width="0.6"/>
<rect x="472.55" y="191.10" width="5.65" height="45.30" fill="#0000ff" fill-opacity="0.52" stroke="#0000ff" stroke-opacity="0.5" stroke-width="0.6"/>
<rect x="478.20" y="221.50" width="5.65" height="14.90" fill="#0000ff" fill-opacity="0.52" stroke="#0000ff" stroke-opacity="0.5" stroke-width="0.6"/>
<rect x="495.15" y="221.50" width="5.65" height="14.90" fill="#0000ff" fill-opacity="0.52" stroke="#0000ff" stroke-opacity="0.5" stroke-width="0.6"/>
<line x1="483.85" y1="236.40" x2="489.50" y2="236.40" stroke="#8060d0" stroke-opacity="0.6" stroke-width="0.8"/>
<line x1="489.50" y1="236.40" x2="495.15" y2="236.40" stroke="#8060d0" stroke-opacity="0.6" stroke-width="0.8"/>
<line x1="500.80" y1="236.40" x2="506.45" y2="236.40" stroke="#8060d0" stroke-opacity="0.6" stroke-width="0.8"/>
<line x1="506.45" y1="236.40" x2="512.10" y2="236.40" stroke="#8060d0" stroke-opacity="0.6" stroke-width="0.8"/>
<line x1="512.10" y1="236.40" x2="517.75" y2="236.40" stroke="#8060d0" stroke-opacity="0.6" stroke-width="0.8"/>
<line x1="517.75" y1="236.40" x2="523.40" y2="236.40" stroke="#8060d0" stroke-opacity="0.6" stroke-width="0.8"/>
<line x1="523.40" y1="236.40" x2="529.05" y2="236.40" stroke="#8060d0" stroke-opacity="0.6" stroke-width="0.8"/>
<line x1="529.05" y1="236.40" x2="534.70" y2="236.40" stroke="#8060d0" stroke-opacity="0.6" stroke-width="0.8"/>
<line x1="534.70" y1="236.40" x2="540.35" y2="236.40" stroke="#8060d0" stroke-opacity="0.6" stroke-width="0.8"/>
<line x1="540.35" y1="236.40" x2="546.00" y2="236.40" stroke="#8060d0" stroke-opacity="0.6" stroke-width="0.8"/>
<line x1="546.00" y1="236.40" x2="551.65" y2="236.40" stroke="#8060d0" stroke-opacity="0.6" stroke-width="0.8"/>
<line x1="551.65" y1="236.40" x2="557.30" y2="236.40" stroke="#8060d0" stroke-opacity="0.6" stroke-width="0.8"/>
<line x1="557.30" y1="236.40" x2="562.95" y2="236.40" stroke="#8060d0" stroke-opacity="0.6" stroke-width="0.8"/>
<line x1="562.95" y1="236.40" x2="568.60" y2="236.40" stroke="#8060d0" stroke-opacity="0.6" stroke-width="0.8"/>
<line x1="449.90" y1="140.50" x2="449.90" y2="241.00" stroke="#3a3a3a" stroke-width="1.3"/>
<line x1="449.30" y1="241.00" x2="574.25" y2="241.00" stroke="#3a3a3a" stroke-width="1.3"/>
<line x1="448.30" y1="236.40" x2="449.90" y2="236.40" stroke="#333" stroke-width="0.7"/>
<text x="447.00" y="238.70" font-size="6.4" text-anchor="end" fill="#444" textLength="8.01" lengthAdjust="spacingAndGlyphs">0.0</text>
<line x1="448.30" y1="209.10" x2="449.90" y2="209.10" stroke="#333" stroke-width="0.7"/>
<text x="447.00" y="211.40" font-size="6.4" text-anchor="end" fill="#444" textLength="8.01" lengthAdjust="spacingAndGlyphs">0.2</text>
<line x1="448.30" y1="181.80" x2="449.90" y2="181.80" stroke="#333" stroke-width="0.7"/>
<text x="447.00" y="184.10" font-size="6.4" text-anchor="end" fill="#444" textLength="8.01" lengthAdjust="spacingAndGlyphs">0.4</text>
<line x1="448.30" y1="154.50" x2="449.90" y2="154.50" stroke="#333" stroke-width="0.7"/>
<text x="447.00" y="156.80" font-size="6.4" text-anchor="end" fill="#444" textLength="8.01" lengthAdjust="spacingAndGlyphs">0.6</text>
<line x1="458.80" y1="241.00" x2="458.80" y2="242.60" stroke="#333" stroke-width="0.7"/>
<text x="458.80" y="250.30" font-size="6.4" text-anchor="middle" fill="#444" textLength="3.2" lengthAdjust="spacingAndGlyphs">0</text>
<line x1="499.30" y1="241.00" x2="499.30" y2="242.60" stroke="#333" stroke-width="0.7"/>
<text x="499.30" y="250.30" font-size="6.4" text-anchor="middle" fill="#444" textLength="3.2" lengthAdjust="spacingAndGlyphs">5</text>
<line x1="539.80" y1="241.00" x2="539.80" y2="242.60" stroke="#333" stroke-width="0.7"/>
<text x="539.80" y="250.30" font-size="6.4" text-anchor="middle" fill="#444" textLength="6.41" lengthAdjust="spacingAndGlyphs">10</text>
<text x="512.20" y="258.40" font-size="9.0" text-anchor="middle" fill="#111" stroke="#111" stroke-width="0.06" textLength="120.0" lengthAdjust="spacingAndGlyphs">Diff between co-occurring and 99th</text>
<text x="434.60" y="191.50" font-size="8.8" text-anchor="middle" fill="#1a1a1a" transform="rotate(-90 434.60 191.50)" textLength="24.5" lengthAdjust="spacingAndGlyphs">density</text>
<rect x="455.60" y="325.00" width="5.65" height="41.40" fill="#ff0000" fill-opacity="0.5" stroke="#ff0000" stroke-opacity="0.5" stroke-width="0.6"/>
<rect x="461.25" y="286.10" width="5.65" height="80.30" fill="#ff0000" fill-opacity="0.5" stroke="#ff0000" stroke-opacity="0.5" stroke-width="0.6"/>
<rect x="466.90" y="305.10" width="5.65" height="61.30" fill="#ff0000" fill-opacity="0.5" stroke="#ff0000" stroke-opacity="0.5" stroke-width="0.6"/>
<rect x="472.55" y="316.80" width="5.65" height="49.60" fill="#ff0000" fill-opacity="0.5" stroke="#ff0000" stroke-opacity="0.5" stroke-width="0.6"/>
<rect x="478.20" y="319.90" width="5.65" height="46.50" fill="#ff0000" fill-opacity="0.5" stroke="#ff0000" stroke-opacity="0.5" stroke-width="0.6"/>
<rect x="483.85" y="333.10" width="5.65" height="33.30" fill="#ff0000" fill-opacity="0.5" stroke="#ff0000" stroke-opacity="0.5" stroke-width="0.6"/>
<rect x="489.50" y="339.50" width="5.65" height="26.90" fill="#ff0000" fill-opacity="0.5" stroke="#ff0000" stroke-opacity="0.5" stroke-width="0.6"/>
<rect x="495.15" y="345.40" width="5.65" height="21.00" fill="#ff0000" fill-opacity="0.5" stroke="#ff0000" stroke-opacity="0.5" stroke-width="0.6"/>
<rect x="500.80" y="345.40" width="5.65" height="21.00" fill="#ff0000" fill-opacity="0.5" stroke="#ff0000" stroke-opacity="0.5" stroke-width="0.6"/>
<rect x="506.45" y="350.30" width="5.65" height="16.10" fill="#ff0000" fill-opacity="0.5" stroke="#ff0000" stroke-opacity="0.5" stroke-width="0.6"/>
<rect x="512.10" y="355.70" width="5.65" height="10.70" fill="#ff0000" fill-opacity="0.5" stroke="#ff0000" stroke-opacity="0.5" stroke-width="0.6"/>
<rect x="517.75" y="360.60" width="5.65" height="5.80" fill="#ff0000" fill-opacity="0.5" stroke="#ff0000" stroke-opacity="0.5" stroke-width="0.6"/>
<rect x="523.40" y="361.30" width="5.65" height="5.10" fill="#ff0000" fill-opacity="0.5" stroke="#ff0000" stroke-opacity="0.5" stroke-width="0.6"/>
<rect x="529.05" y="363.00" width="5.65" height="3.40" fill="#ff0000" fill-opacity="0.5" stroke="#ff0000" stroke-opacity="0.5" stroke-width="0.6"/>
<rect x="534.70" y="362.30" width="5.65" height="4.10" fill="#ff0000" fill-opacity="0.5" stroke="#ff0000" stroke-opacity="0.5" stroke-width="0.6"/>
<rect x="546.00" y="365.30" width="5.65" height="1.10" fill="#ff0000" fill-opacity="0.5" stroke="#ff0000" stroke-opacity="0.5" stroke-width="0.6"/>
<rect x="551.65" y="364.10" width="5.65" height="2.30" fill="#ff0000" fill-opacity="0.5" stroke="#ff0000" stroke-opacity="0.5" stroke-width="0.6"/>
<rect x="455.60" y="274.90" width="5.65" height="91.50" fill="#0000ff" fill-opacity="0.52" stroke="#0000ff" stroke-opacity="0.5" stroke-width="0.6"/>
<rect x="461.25" y="297.90" width="5.65" height="68.50" fill="#0000ff" fill-opacity="0.52" stroke="#0000ff" stroke-opacity="0.5" stroke-width="0.6"/>
<rect x="472.55" y="274.90" width="5.65" height="91.50" fill="#0000ff" fill-opacity="0.52" stroke="#0000ff" stroke-opacity="0.5" stroke-width="0.6"/>
<rect x="478.20" y="343.40" width="5.65" height="23.00" fill="#0000ff" fill-opacity="0.52" stroke="#0000ff" stroke-opacity="0.5" stroke-width="0.6"/>
<rect x="483.85" y="320.90" width="5.65" height="45.50" fill="#0000ff" fill-opacity="0.52" stroke="#0000ff" stroke-opacity="0.5" stroke-width="0.6"/>
<rect x="495.15" y="343.80" width="5.65" height="22.60" fill="#0000ff" fill-opacity="0.52" stroke="#0000ff" stroke-opacity="0.5" stroke-width="0.6"/>
<rect x="500.80" y="343.80" width="5.65" height="22.60" fill="#0000ff" fill-opacity="0.52" stroke="#0000ff" stroke-opacity="0.5" stroke-width="0.6"/>
<rect x="506.45" y="297.90" width="5.65" height="68.50" fill="#0000ff" fill-opacity="0.52" stroke="#0000ff" stroke-opacity="0.5" stroke-width="0.6"/>
<line x1="466.90" y1="366.40" x2="472.55" y2="366.40" stroke="#8060d0" stroke-opacity="0.6" stroke-width="0.8"/>
<line x1="489.50" y1="366.40" x2="495.15" y2="366.40" stroke="#8060d0" stroke-opacity="0.6" stroke-width="0.8"/>
<line x1="512.10" y1="366.40" x2="517.75" y2="366.40" stroke="#8060d0" stroke-opacity="0.6" stroke-width="0.8"/>
<line x1="517.75" y1="366.40" x2="523.40" y2="366.40" stroke="#8060d0" stroke-opacity="0.6" stroke-width="0.8"/>
<line x1="523.40" y1="366.40" x2="529.05" y2="366.40" stroke="#8060d0" stroke-opacity="0.6" stroke-width="0.8"/>
<line x1="529.05" y1="366.40" x2="534.70" y2="366.40" stroke="#8060d0" stroke-opacity="0.6" stroke-width="0.8"/>
<line x1="534.70" y1="366.40" x2="540.35" y2="366.40" stroke="#8060d0" stroke-opacity="0.6" stroke-width="0.8"/>
<line x1="540.35" y1="366.40" x2="546.00" y2="366.40" stroke="#8060d0" stroke-opacity="0.6" stroke-width="0.8"/>
<line x1="546.00" y1="366.40" x2="551.65" y2="366.40" stroke="#8060d0" stroke-opacity="0.6" stroke-width="0.8"/>
<line x1="551.65" y1="366.40" x2="557.30" y2="366.40" stroke="#8060d0" stroke-opacity="0.6" stroke-width="0.8"/>
<line x1="557.30" y1="366.40" x2="562.95" y2="366.40" stroke="#8060d0" stroke-opacity="0.6" stroke-width="0.8"/>
<line x1="562.95" y1="366.40" x2="568.60" y2="366.40" stroke="#8060d0" stroke-opacity="0.6" stroke-width="0.8"/>
<line x1="449.90" y1="270.50" x2="449.90" y2="371.00" stroke="#3a3a3a" stroke-width="1.3"/>
<line x1="449.30" y1="371.00" x2="574.25" y2="371.00" stroke="#3a3a3a" stroke-width="1.3"/>
<line x1="448.30" y1="366.40" x2="449.90" y2="366.40" stroke="#333" stroke-width="0.7"/>
<text x="447.00" y="368.70" font-size="6.4" text-anchor="end" fill="#444" textLength="8.01" lengthAdjust="spacingAndGlyphs">0.0</text>
<line x1="448.30" y1="334.80" x2="449.90" y2="334.80" stroke="#333" stroke-width="0.7"/>
<text x="447.00" y="337.10" font-size="6.4" text-anchor="end" fill="#444" textLength="8.01" lengthAdjust="spacingAndGlyphs">0.2</text>
<line x1="448.30" y1="303.20" x2="449.90" y2="303.20" stroke="#333" stroke-width="0.7"/>
<text x="447.00" y="305.50" font-size="6.4" text-anchor="end" fill="#444" textLength="8.01" lengthAdjust="spacingAndGlyphs">0.4</text>
<line x1="448.30" y1="271.60" x2="449.90" y2="271.60" stroke="#333" stroke-width="0.7"/>
<text x="447.00" y="273.90" font-size="6.4" text-anchor="end" fill="#444" textLength="8.01" lengthAdjust="spacingAndGlyphs">0.6</text>
<line x1="458.30" y1="371.00" x2="458.30" y2="372.60" stroke="#333" stroke-width="0.7"/>
<text x="458.30" y="380.30" font-size="6.4" text-anchor="middle" fill="#444" textLength="3.2" lengthAdjust="spacingAndGlyphs">0</text>
<line x1="489.00" y1="371.00" x2="489.00" y2="372.60" stroke="#333" stroke-width="0.7"/>
<text x="489.00" y="380.30" font-size="6.4" text-anchor="middle" fill="#444" textLength="3.2" lengthAdjust="spacingAndGlyphs">2</text>
<line x1="519.70" y1="371.00" x2="519.70" y2="372.60" stroke="#333" stroke-width="0.7"/>
<text x="519.70" y="380.30" font-size="6.4" text-anchor="middle" fill="#444" textLength="3.2" lengthAdjust="spacingAndGlyphs">4</text>
<line x1="550.40" y1="371.00" x2="550.40" y2="372.60" stroke="#333" stroke-width="0.7"/>
<text x="550.40" y="380.30" font-size="6.4" text-anchor="middle" fill="#444" textLength="3.2" lengthAdjust="spacingAndGlyphs">6</text>
<text x="512.20" y="388.30" font-size="9.0" text-anchor="middle" fill="#111" stroke="#111" stroke-width="0.06" textLength="120.0" lengthAdjust="spacingAndGlyphs">Diff between co-occurring and 99th</text>
<text x="434.60" y="321.50" font-size="8.8" text-anchor="middle" fill="#1a1a1a" transform="rotate(-90 434.60 321.50)" textLength="24.5" lengthAdjust="spacingAndGlyphs">density</text>
</svg>
</body></html>
